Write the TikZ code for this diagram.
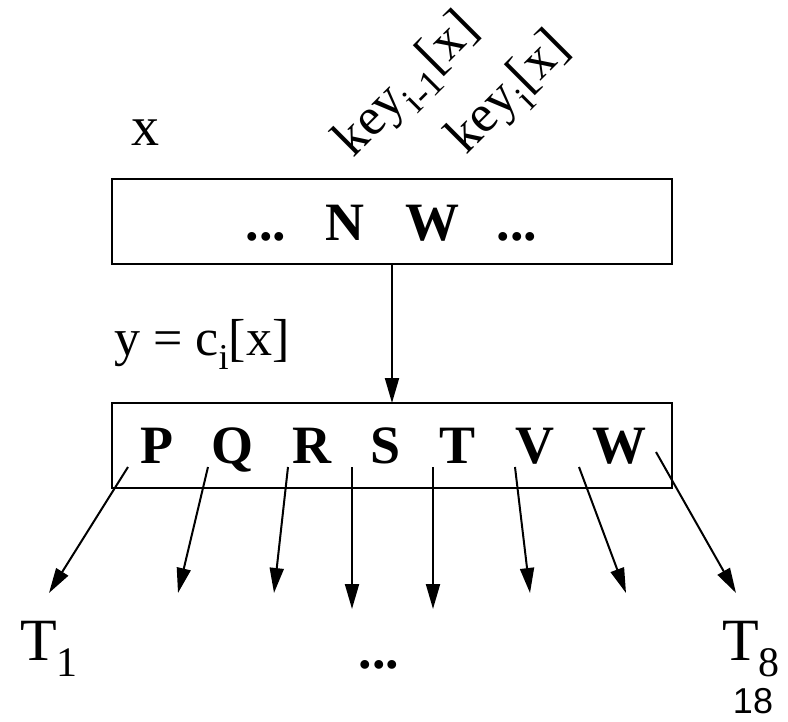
\documentclass[tikz,border=0pt]{standalone}
\usepackage{fontspec}
\setmainfont{Liberation Serif}
\newfontfamily\numfont{Liberation Sans}
\usetikzlibrary{arrows.meta}
\newcommand\mysubs[1]{\raisebox{-0.28em}{\scalebox{0.7}{#1}}}
\tikzset{
  boxline/.style={draw, line width=2.2pt},
  link/.style={line width=2pt, -{Triangle[length=25pt,width=14pt]}},
  keylbl/.style={font=\fontsize{53}{58}\selectfont, inner sep=0pt, rotate=45},
  boxlbl/.style={font=\fontsize{54}{60}\selectfont\bfseries, anchor=base, inner sep=0pt},
  tlbl/.style={font=\fontsize{60}{66}\selectfont, anchor=base west, inner sep=0pt},
}
\begin{document}
\begin{tikzpicture}[x=1pt, y=-1pt]
\useasboundingbox (0,0) rectangle (788,721);
% boxes
\draw[boxline] (112,179) rectangle (672,264);
\draw[boxline] (112,403) rectangle (672,488);
\coordinate (topb) at (392,264);
\coordinate (bott) at (392,403);
\draw[link] (topb) -- (bott);
% top labels
\node[font=\fontsize{56}{60}\selectfont, anchor=base, inner sep=0pt] (x) at (145,145) {x};
\node[keylbl] (k1) at (409,87) {key\mysubs{i-1}[x]};
\node[keylbl] (k2) at (511,95) {key\mysubs{i}[x]};
\node[boxlbl] (d1) at (266,240) {...};
\node[boxlbl] (N) at (345,240) {N};
\node[boxlbl] (W1) at (432,240) {W};
\node[boxlbl] (d2) at (517,240) {...};
% y label
\node[font=\fontsize{52}{58}\selectfont, anchor=base west, inner sep=0pt] (yl) at (114,355) {y = c\mysubs{i}[x]};
% bottom box letters
\node[boxlbl] (P) at (157,463) {P};
\node[boxlbl] (Q) at (232,463) {Q};
\node[boxlbl] (R) at (312,463) {R};
\node[boxlbl] (S) at (386,463) {S};
\node[boxlbl] (T) at (458,463) {T};
\node[boxlbl] (V) at (535,463) {V};
\node[boxlbl] (W) at (619,463) {W};
% arrow starts and ends
\foreach \i/\sx/\sy/\ex/\ey in {1/128/467/49/593, 2/208/467/178/593, 3/288/467/274/593, 4/352/467/352/609, 5/433/467/433/609, 6/515/467/530/593, 7/579/467/626/593, 8/656/452/736/593}{
  \coordinate (s\i) at (\sx,\sy);
  \coordinate (e\i) at (\ex,\ey);
  \draw[link] (s\i) -- (e\i);
}
% bottom labels
\node[tlbl] (T1) at (20,660) {T\mysubs{1}};
\node[tlbl] (T8) at (722,660) {T\mysubs{8}};
\node[boxlbl] (d3) at (379,668) {...};
\node[font=\fontsize{36}{40}\selectfont\numfont, anchor=base, inner sep=0pt] (pg) at (753,713) {18};
\end{tikzpicture}
\end{document}
